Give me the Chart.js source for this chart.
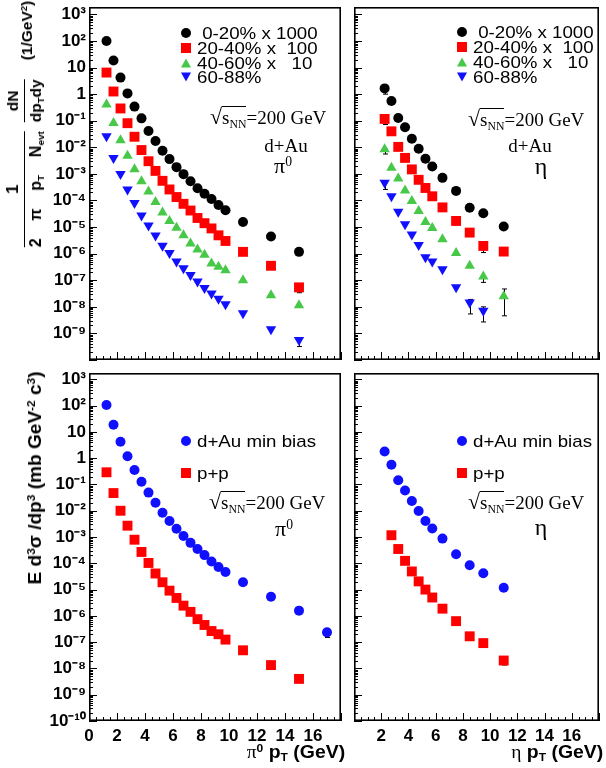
<!DOCTYPE html>
<html>
<head>
<meta charset="utf-8">
<script src="https://cdn.jsdelivr.net/npm/chart.js@4.4.1/dist/chart.umd.min.js"></script>
<style>
  body { margin: 0; background: #fff; }
  #page { position: relative; width: 606px; height: 768px; overflow: hidden; color: #000;
          font-family: "Liberation Sans", Arial, sans-serif; }
  canvas { position: absolute; }
  .t { position: absolute; white-space: pre; line-height: 1; }
  .leg { font-size: 17px; transform: translateY(-50%) scaleX(1.1); transform-origin: left center; }
  .serif { font-family: "Liberation Serif", "Times New Roman", serif; font-size: 19px; }
  .lab { transform: translateY(-50%); }
  .ctr { transform: translate(-50%, -50%); }
  .ov { display: inline-block; border-top: 1px solid #000; line-height: 1; padding-top: 1px; }
  .rad { font-size: 22px; }
  sub { font-size: 0.62em; vertical-align: -0.3em; line-height: 0; }
  sup { font-size: 0.62em; vertical-align: 0.55em; line-height: 0; }
  .xt { font-weight: bold; font-size: 18px; transform: translateY(-50%) scaleX(1.08); transform-origin: right center; }
  .mk { position: absolute; transform: translate(-50%, -50%); }
  .mc { width: 10px; height: 10px; border-radius: 50%; }
  .ms { width: 10px; height: 10px; }
  .mt { width: 0; height: 0; border-left: 5.5px solid transparent; border-right: 5.5px solid transparent; border-bottom: 9px solid; }
  .mi { width: 0; height: 0; border-left: 5.5px solid transparent; border-right: 5.5px solid transparent; border-top: 9px solid; }
  .ytitle { position: absolute; white-space: nowrap; font-weight: bold; font-size: 17px; line-height: 1; }
  .flexrow { display: flex; align-items: center; }
  .frac { display: inline-flex; flex-direction: column; align-items: center; }
  .frac .den { border-top: 1.5px solid #000; padding-top: 3px; }
  .frac .num { padding-bottom: 3px; }
  .just { display: inline-block; text-align: justify; text-align-last: justify; white-space: normal; }
</style>
</head>
<body>
<div id="page">
  <canvas id="tl" width="348" height="367" style="left:0;top:0"></canvas>
  <canvas id="tr" width="259" height="367" style="left:347px;top:0"></canvas>
  <canvas id="bl" width="348" height="402" style="left:0;top:366px"></canvas>
  <canvas id="br" width="259" height="402" style="left:347px;top:366px"></canvas>

  <!-- top left: pi0 centrality -->
  <div class="mk mc" style="left:186px;top:33px;background:#000"></div>
  <div class="t leg" style="left:197px;top:33px"> 0-20% x 1000</div>
  <div class="mk ms" style="left:186px;top:48px;background:#ff0000"></div>
  <div class="t leg" style="left:197px;top:48px">20-40% x  100</div>
  <div class="mk mt" style="left:186px;top:63px;color:#48c848"></div>
  <div class="t leg" style="left:197px;top:63px">40-60% x   10</div>
  <div class="mk mi" style="left:186px;top:77px;color:#1010ff"></div>
  <div class="t leg" style="left:197px;top:77px">60-88%</div>
  <div class="t serif lab" style="left:210px;top:117px"><span class="rad">√</span><span class="ov">s<sub>NN</sub></span>=200 GeV</div>
  <div class="t serif ctr" style="left:286px;top:145px">d+Au</div>
  <div class="t serif ctr" style="left:283px;top:166px;font-size:22px">π<sup>0</sup></div>

  <!-- top right: eta centrality -->
  <div class="mk mc" style="left:462px;top:32px;background:#000"></div>
  <div class="t leg" style="left:473px;top:32px"> 0-20% x 1000</div>
  <div class="mk ms" style="left:462px;top:47px;background:#ff0000"></div>
  <div class="t leg" style="left:473px;top:47px">20-40% x  100</div>
  <div class="mk mt" style="left:462px;top:62px;color:#48c848"></div>
  <div class="t leg" style="left:473px;top:62px">40-60% x   10</div>
  <div class="mk mi" style="left:462px;top:77px;color:#1010ff"></div>
  <div class="t leg" style="left:473px;top:77px">60-88%</div>
  <div class="t serif lab" style="left:468px;top:119px"><span class="rad">√</span><span class="ov">s<sub>NN</sub></span>=200 GeV</div>
  <div class="t serif ctr" style="left:530px;top:145px">d+Au</div>
  <div class="t serif ctr" style="left:541px;top:166px;font-size:24px">η</div>

  <!-- bottom left: pi0 min bias / p+p -->
  <div class="mk mc" style="left:186px;top:441px;background:#1010ff"></div>
  <div class="t leg" style="left:197px;top:441px">d+Au min bias</div>
  <div class="mk ms" style="left:186px;top:473px;background:#ff0000"></div>
  <div class="t leg" style="left:197px;top:473px">p+p</div>
  <div class="t serif lab" style="left:209px;top:502px"><span class="rad">√</span><span class="ov">s<sub>NN</sub></span>=200 GeV</div>
  <div class="t serif ctr" style="left:284px;top:529px;font-size:22px">π<sup>0</sup></div>

  <!-- bottom right: eta min bias / p+p -->
  <div class="mk mc" style="left:462px;top:441px;background:#1010ff"></div>
  <div class="t leg" style="left:473px;top:441px">d+Au min bias</div>
  <div class="mk ms" style="left:462px;top:473px;background:#ff0000"></div>
  <div class="t leg" style="left:473px;top:473px">p+p</div>
  <div class="t serif lab" style="left:468px;top:502px"><span class="rad">√</span><span class="ov">s<sub>NN</sub></span>=200 GeV</div>
  <div class="t serif ctr" style="left:541px;top:527px;font-size:24px">η</div>

  <!-- axis titles -->
  <div class="t xt" style="right:261px;top:752px"><span style="font-family:'Liberation Serif',serif;font-weight:normal">π</span><sup>0</sup> p<sub>T</sub> (GeV)</div>
  <div class="t xt" style="right:3px;top:752px"><span style="font-family:'Liberation Serif',serif;font-weight:normal">η</span> p<sub>T</sub> (GeV)</div>

  <div class="ytitle flexrow" id="yt1" style="left:24px;top:124px;font-size:15.5px;transform:translate(-50%,-50%) rotate(-90deg)">
    <span class="frac"><span class="num" style="font-size:17px">1</span><span class="den just" style="width:116px;font-size:16px">2 π p<sub>T</sub> N<sub>evt</sub></span></span>
    <span class="frac" style="margin-left:9px"><span class="num">dN</span><span class="den">dp<sub>T</sub>dy</span></span>
    <span style="margin-left:19px;position:relative;top:3px">(1/GeV<sup>2</sup>)</span>
  </div>
  <div class="ytitle" id="yt2" style="left:35px;top:478px;font-size:18px;transform:translate(-50%,-50%) rotate(-90deg) scaleX(1.06)">E d<sup>3</sup>σ /dp<sup>3</sup> (mb GeV<sup>-2</sup> c<sup>3</sup>)</div>
</div>

<script>
// ---- data ----
const pi0Pt   = [1.25, 1.75, 2.25, 2.75, 3.25, 3.75, 4.25, 4.75, 5.25, 5.75, 6.25, 6.75, 7.25, 7.75, 8.25, 8.75, 9.25, 9.75, 11, 13, 15];
const pi0PtMB = [1.25, 1.75, 2.25, 2.75, 3.25, 3.75, 4.25, 4.75, 5.25, 5.75, 6.25, 6.75, 7.25, 7.75, 8.25, 8.75, 9.25, 9.75, 11, 13, 15, 17];
const etaPt   = [2.25, 2.75, 3.25, 3.75, 4.25, 4.75, 5.25, 5.75, 6.5, 7.5, 8.5, 9.5, 11];
const etaPtPP = [2.75, 3.25, 3.75, 4.25, 4.75, 5.25, 5.75, 6.5, 7.5, 8.5, 9.5, 11];
const etaPtPer = [2.25, 2.75, 3.25, 3.75, 4.25, 4.75, 5.25, 5.75, 6.5, 7.5, 8.5, 9.5];

// pi0 d+Au by centrality (scaled as in legend)
const pi0C0 = [100, 18.4, 4.2, 1.07, 0.34, 0.123, 0.041, 0.0173, 0.0074, 0.0036, 0.0018, 9.8e-4, 5.3e-4, 2.9e-4, 1.8e-4, 1.14e-4, 6.8e-5, 4.3e-5, 1.55e-5, 4.4e-6, 1.17e-6];
const pi0C1 = [6.5, 1.26, 0.29, 0.081, 0.025, 0.0079, 0.0030, 0.0013, 5.5e-4, 2.6e-4, 1.35e-4, 7.5e-5, 4.2e-5, 2.2e-5, 1.4e-5, 8.9e-6, 4.9e-6, 3.0e-6, 1.17e-6, 3.5e-7, 5.4e-8];
const pi0C2 = [0.41, 0.083, 0.0185, 0.0048, 0.0015, 5.3e-4, 2.2e-4, 8.7e-5, 3.5e-5, 1.69e-5, 9.4e-6, 4.9e-6, 2.4e-6, 1.44e-6, 9.1e-7, 4.3e-7, 3.2e-7, 2.4e-7, 1.0e-7, 2.74e-8, 1.15e-8];
const pi0C3 = [0.026, 0.004, 1.0e-3, 2.6e-4, 8.1e-5, 2.7e-5, 1.15e-5, 4.8e-6, 2.0e-6, 1.07e-6, 5.1e-7, 2.8e-7, 1.58e-7, 8.9e-8, 5.1e-8, 3.2e-8, 2.0e-8, 1.26e-8, 5.7e-9, 1.45e-9, 5.7e-10];

// eta d+Au by centrality
const etaC0 = [1.65, 0.55, 0.126, 0.057, 0.021, 0.0089, 0.0037, 0.0019, 7.1e-4, 2.3e-4, 5.3e-5, 3.3e-5, 1.05e-5];
const etaC1 = [0.117, 0.040, 0.0104, 0.004, 0.00148, 6.0e-4, 2.96e-4, 1.44e-4, 5.5e-5, 1.7e-5, 6.2e-6, 1.95e-6, 1.2e-6];
const etaC2 = [0.0085, 0.0017, 6.7e-4, 2.4e-4, 9.6e-5, 4.0e-5, 1.55e-5, 9.3e-6, 3.5e-6, 1.07e-6, 3.5e-7, 1.38e-7, 2.5e-8];
const etaC3 = [4.7e-4, 1.45e-4, 3.8e-5, 1.27e-5, 5.3e-6, 2.1e-6, 7.4e-7, 5.1e-7, 2.6e-7, 5.4e-8, 1.45e-8, 7.1e-9];

// invariant cross sections
const pi0DAu = [106, 18.6, 4.2, 1.19, 0.355, 0.126, 0.049, 0.020, 0.0084, 0.0041, 0.00205, 0.0011, 6.0e-4, 3.5e-4, 2.05e-4, 1.18e-4, 7.2e-5, 4.7e-5, 1.9e-5, 5.3e-6, 1.58e-6, 2.36e-7];
const pi0PP  = [0.29, 0.047, 0.010, 0.0027, 7.9e-4, 2.7e-4, 1.03e-4, 4.1e-5, 1.9e-5, 9.1e-6, 4.8e-6, 2.45e-6, 1.42e-6, 7.5e-7, 4.5e-7, 2.65e-7, 2.0e-7, 1.25e-7, 4.9e-8, 1.34e-8, 4.0e-9];
const etaDAu = [1.78, 0.56, 0.145, 0.059, 0.0234, 0.0097, 0.0041, 0.0021, 8.7e-4, 2.2e-4, 8.4e-5, 4.2e-5, 1.18e-5];
const etaPP  = [0.00117, 3.5e-4, 1.24e-4, 4.9e-5, 2.05e-5, 1.0e-5, 5.0e-6, 1.88e-6, 6.3e-7, 1.67e-7, 9.2e-8, 2.0e-8];

// visible error bars: [pT, low, high]
const pi0C1Err  = [[15, 3.4e-8, 5.4e-8]];
const pi0C3Err  = [[15, 3.2e-10, 5.7e-10]];
const etaC0Err  = [[2.25, 1.0, 1.65]];
const etaC1Err  = [[2.25, 0.072, 0.117], [9.5, 1.1e-6, 1.95e-6]];
const etaC2Err  = [[2.25, 0.0056, 0.0085], [9.5, 8.3e-8, 1.38e-7], [11, 4.6e-9, 4.7e-8]];
const etaC3Err  = [[2.25, 2.6e-4, 4.7e-4], [8.5, 5.4e-9, 1.9e-8], [9.5, 2.7e-9, 1.0e-8]];
const pi0DAuErr = [[17, 1.5e-7, 2.36e-7]];
const etaPPErr  = [[11, 1.35e-8, 2.0e-8]];

// tick labels
const yTicksTop    = [1e3, 1e2, 1e1, 1, 1e-1, 1e-2, 1e-3, 1e-4, 1e-5, 1e-6, 1e-7, 1e-8, 1e-9];
const yLabelsTop   = ['10³', '10²', '10', '1', '10⁻¹', '10⁻²', '10⁻³', '10⁻⁴', '10⁻⁵', '10⁻⁶', '10⁻⁷', '10⁻⁸', '10⁻⁹'];
const yTicksBot    = [1e3, 1e2, 1e1, 1, 1e-1, 1e-2, 1e-3, 1e-4, 1e-5, 1e-6, 1e-7, 1e-8, 1e-9, 1e-10];
const yLabelsBot   = ['10³', '10²', '10', '1', '10⁻¹', '10⁻²', '10⁻³', '10⁻⁴', '10⁻⁵', '10⁻⁶', '10⁻⁷', '10⁻⁸', '10⁻⁹', '10⁻¹⁰'];
const xTicksLeft   = [0, 2, 4, 6, 8, 10, 12, 14, 16];
const xTicksRight  = [2, 4, 6, 8, 10, 12, 14, 16];

const BLACK = '#000000', RED = '#ff0000', GREEN = '#48c848', BLUE = '#1010ff';

// ROOT-like frame with inward ticks
function drawFrame(chart) {
  const ctx = chart.ctx, a = chart.chartArea, x = chart.scales.x, y = chart.scales.y;
  ctx.save();
  ctx.strokeStyle = '#000';
  ctx.lineWidth = 1;
  ctx.beginPath();
  for (let d = -10; d <= 3; d++) {
    for (let k = 1; k <= 9; k++) {
      const v = k * Math.pow(10, d);
      if (v < 1e-10 || v > chart.options.scales.y.max) continue;
      const py = Math.round(y.getPixelForValue(v)) + 0.5;
      ctx.moveTo(a.left, py);
      ctx.lineTo(a.left + (k === 1 ? 8 : 4), py);
    }
  }
  for (let v = 0; v <= 18; v += 0.5) {
    const px = Math.round(x.getPixelForValue(v)) + 0.5;
    ctx.moveTo(px, a.bottom);
    ctx.lineTo(px, a.bottom - (v % 2 === 0 ? 8 : 4));
  }
  ctx.stroke();
  ctx.lineWidth = 1.6;
  ctx.strokeRect(a.left + 0.8, a.top + 0.8, a.right - a.left - 1.6, a.bottom - a.top - 1.6);
  ctx.restore();
}

const rootFrame = {
  id: 'rootFrame',
  beforeDatasetsDraw(chart) {
    // error bars under the markers
    const { ctx, scales: { x, y } } = chart;
    ctx.save();
    ctx.strokeStyle = '#000';
    ctx.lineWidth = 1;
    chart.data.datasets.forEach(ds => (ds.errBars || []).forEach(([pt, lo, hi]) => {
      const px = Math.round(x.getPixelForValue(pt)) + 0.5;
      const y1 = y.getPixelForValue(hi), y2 = y.getPixelForValue(lo);
      ctx.beginPath();
      ctx.moveTo(px, y1); ctx.lineTo(px, y2);
      ctx.moveTo(px - 2.5, y1); ctx.lineTo(px + 2.5, y1);
      ctx.moveTo(px - 2.5, y2); ctx.lineTo(px + 2.5, y2);
      ctx.stroke();
    }));
    ctx.restore();
  },
  afterDatasetsDraw(chart) {
    drawFrame(chart);
  }
};

function series(xs, ys, style, color, radius, errBars, rotation) {
  return {
    data: xs.map((x, i) => ({ x, y: ys[i] })),
    pointStyle: style,
    rotation: rotation || 0,
    pointRadius: radius,
    backgroundColor: color,
    borderColor: color,
    borderWidth: 0,
    showLine: false,
    errBars: errBars || []
  };
}

const tickFont = { family: 'Liberation Sans', size: 17, weight: 'bold' };

function makePanel(id, sets, o) {
  return new Chart(document.getElementById(id), {
    type: 'scatter',
    data: { datasets: sets },
    options: {
      responsive: false,
      animation: false,
      events: [],
      layout: { padding: o.pad },
      plugins: { legend: { display: false }, tooltip: { enabled: false } },
      scales: {
        x: {
          type: 'linear', min: 0, max: 18,
          display: !!o.xTicks,
          grid: { display: false, drawTicks: false },
          border: { display: false },
          afterBuildTicks: s => { if (o.xTicks) s.ticks = o.xTicks.map(v => ({ value: v })); },
          afterFit: s => { s.height = o.xTicks ? 47 : 0; s.paddingLeft = 0; s.paddingRight = 0; },
          ticks: { autoSkip: false, maxRotation: 0, padding: 5, color: '#000', font: tickFont,
                   callback: (v, i) => String(o.xTicks ? o.xTicks[i] : v) }
        },
        y: {
          type: 'logarithmic', min: 1e-10, max: o.yMax,
          display: !!o.yTicks,
          grid: { display: false, drawTicks: false },
          border: { display: false },
          afterBuildTicks: s => { if (o.yTicks) s.ticks = o.yTicks.map(v => ({ value: v })); },
          afterFit: s => { s.width = o.yTicks ? 89 : 0; s.paddingTop = 0; s.paddingBottom = 0; },
          ticks: { autoSkip: false, padding: 3, color: '#000', font: tickFont,
                   callback: (v, i) => o.yLabels ? o.yLabels[i] : '' }
        }
      }
    },
    plugins: [rootFrame]
  });
}

const TOP_MAX = 1.9e3, BOT_MAX = 1.74e3;

makePanel('tl', [
  series(pi0Pt, pi0C0, 'circle', BLACK, 5),
  series(pi0Pt, pi0C1, 'rect', RED, 7, pi0C1Err),
  series(pi0Pt, pi0C2, 'triangle', GREEN, 6),
  series(pi0Pt, pi0C3, 'triangle', BLUE, 6, pi0C3Err, 180)
], { pad: { top: 5, right: 0, bottom: 1, left: 0 }, yMax: TOP_MAX, yTicks: yTicksTop, yLabels: yLabelsTop });

makePanel('tr', [
  series(etaPt, etaC0, 'circle', BLACK, 5, etaC0Err),
  series(etaPt, etaC1, 'rect', RED, 7, etaC1Err),
  series(etaPt, etaC2, 'triangle', GREEN, 6, etaC2Err),
  series(etaPtPer, etaC3, 'triangle', BLUE, 6, etaC3Err, 180)
], { pad: { top: 5, right: 1, bottom: 1, left: 0 }, yMax: TOP_MAX });

makePanel('bl', [
  series(pi0PtMB, pi0DAu, 'circle', BLUE, 5, pi0DAuErr),
  series(pi0Pt, pi0PP, 'rect', RED, 7)
], { pad: { top: 0, right: 0, bottom: 0, left: 0 }, yMax: BOT_MAX, yTicks: yTicksBot, yLabels: yLabelsBot, xTicks: xTicksLeft });

makePanel('br', [
  series(etaPt, etaDAu, 'circle', BLUE, 5),
  series(etaPtPP, etaPP, 'rect', RED, 7, etaPPErr)
], { pad: { top: 0, right: 1, bottom: 0, left: 0 }, yMax: BOT_MAX, xTicks: xTicksRight });
</script>
</body>
</html>
